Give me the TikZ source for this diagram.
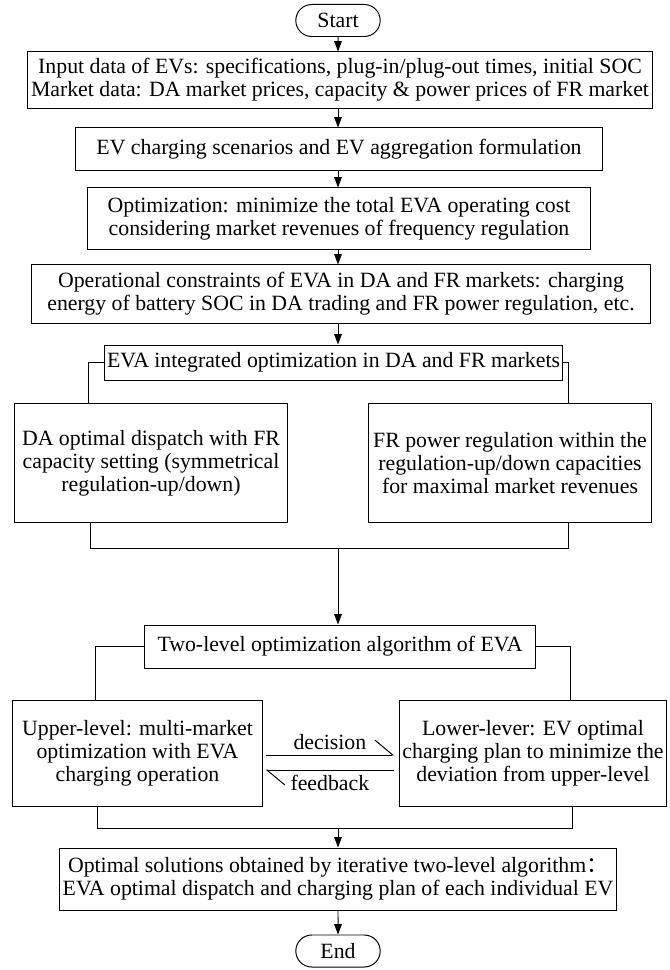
\documentclass[tikz,border=0pt]{standalone}
\usepackage{fontspec}
\setmainfont{Liberation Serif}
\newfontfamily\cjk{Noto Sans CJK SC}
\usetikzlibrary{arrows.meta,shapes.misc}
\begin{document}
\begin{tikzpicture}[x=0.025cm,y=-0.025cm,line width=0.7pt,
 blk/.style={draw=black,fill=white,align=center,inner sep=2pt,font=\fontsize{15.5}{16.5}\selectfont},
 term/.style={blk,rounded rectangle,minimum width=2.25cm,minimum height=0.8cm},
 arr/.style={-{Triangle[length=2.6mm,width=1.9mm]}},
 harp/.style={-{Straight Barb[harpoon,length=4.5mm,width=7.5mm]}}]
 \useasboundingbox (0,0) rectangle (669,970);
 \node (term start) at (338,20.5) [term] {Start};
 \node (blk 1) at (340,80) [blk,minimum width=15.6cm,minimum height=1.4cm] {Input data of EVs: specifications, plug-in/plug-out times, initial SOC\\Market data: DA market prices, capacity \& power prices of FR market};
 \node (blk 2) at (339,149) [blk,minimum width=13.15cm,minimum height=1.05cm] {EV charging scenarios and EV aggregation formulation};
 \node (blk 3) at (339,218.5) [blk,minimum width=12.575cm,minimum height=1.525cm] {Optimization: minimize the total EVA operating cost\\considering market revenues of frequency regulation};
 \node (blk 4) at (341,294) [blk,minimum width=15.45cm,minimum height=1.45cm] {Operational constraints of EVA in DA and FR markets: charging\\energy of battery SOC in DA trading and FR power regulation, etc.};
 \node (blk 5) at (333.5,362.5) [blk,minimum width=11.025cm,minimum height=0.875cm] {EVA integrated optimization in DA and FR markets};
 \node (blk 6) at (151,463) [blk,minimum width=6.8cm,minimum height=2.95cm] {DA optimal dispatch with FR\\capacity setting (symmetrical\\regulation-up/down)};
 \node (blk 7) at (510,463) [blk,minimum width=7.05cm,minimum height=2.95cm] {FR power regulation within the\\regulation-up/down capacities\\for maximal market revenues};
 \node (blk 8) at (340,646.5) [blk,minimum width=9.75cm,minimum height=1.075cm] {Two-level optimization algorithm of EVA};
 \node (blk 9) at (137.5,753) [blk,minimum width=6.225cm,minimum height=2.65cm] {Upper-level: multi-market\\optimization with EVA\\charging operation};
 \node (blk 10) at (533,753) [blk,minimum width=6.5cm,minimum height=2.65cm] {Lower-lever: EV optimal\\charging plan to minimize the\\deviation from upper-level};
 \node (blk 11) at (338,879) [blk,minimum width=13.75cm,minimum height=1.55cm] {Optimal solutions obtained by iterative two-level algorithm{\cjk ：}\\EVA optimal dispatch and charging plan of each individual EV};
 \node (term end) at (338,951) [term] {End};
 % junction points
 \coordinate (jn 1) at (88,404);
 \coordinate (jn 2) at (568,404);
 \coordinate (jn 3) at (90,548);
 \coordinate (jn 4) at (568,548);
 \coordinate (jn 5) at (338,548);
 \coordinate (jn 6) at (95,700);
 \coordinate (jn 7) at (570,700);
 \coordinate (jn 8) at (97,828);
 \coordinate (jn 9) at (572,828);
 \coordinate (jn 10) at (338,828);
 \draw[arr] (term start) -- (blk 1.north -| term start);
 \draw[arr] (blk 1.south -| term start) -- (blk 2.north -| term start);
 \draw[arr] (blk 2.south -| term start) -- (blk 3.north -| term start);
 \draw[arr] (blk 3.south -| term start) -- (blk 4.north -| term start);
 \draw[arr] (blk 4.south -| term start) -- (blk 5.north -| term start);
 \draw (blk 5.west) -| (jn 1);
 \draw (blk 5.east) -| (jn 2);
 \draw (blk 6.south -| jn 3) -- (jn 3) -- (jn 4) -- (blk 7.south -| jn 4);
 \draw[arr] (jn 5) -- (blk 8.north -| jn 5);
 \draw (blk 8.west) -| (jn 6);
 \draw (blk 8.east) -| (jn 7);
 \draw[harp] ([shift={(3,2)}]blk 9.east) -- node[above,font=\fontsize{15.5}{16.5}\selectfont] {decision} ([shift={(-5,2)}]blk 10.west);
 \draw[harp] ([shift={(-5,17)}]blk 10.west) -- node[below,font=\fontsize{15.5}{16.5}\selectfont] {feedback} ([shift={(3,17)}]blk 9.east);
 \draw (blk 9.south -| jn 8) -- (jn 8) -- (jn 9) -- (blk 10.south -| jn 9);
 \draw[arr] (jn 10) -- (blk 11.north -| jn 10);
 \draw[arr] (blk 11.south -| term end) -- (term end);
\end{tikzpicture}
\end{document}
